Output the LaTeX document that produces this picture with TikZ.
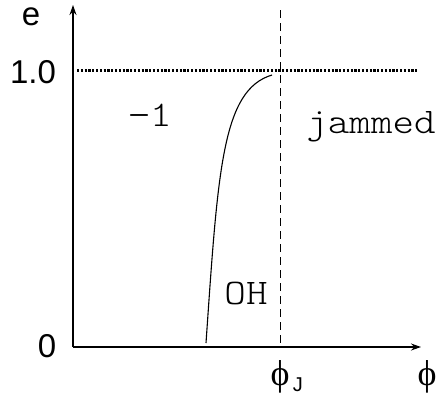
\documentclass[tikz,border=0pt]{standalone}
\usepackage{fontspec}
\setmainfont{Liberation Sans}
\newfontfamily\monof[FakeStretch=1.14]{Latin Modern Mono Light}
\newfontfamily\serf{Liberation Serif}
\usetikzlibrary{arrows.meta}
\begin{document}
\begin{tikzpicture}[x=1pt,y=-1pt,
  axis/.style={line width=1.2pt,-{Stealth[length=10pt,width=7pt]}},
  lbl/.style={font=\fontsize{33}{33}\selectfont,anchor=base,inner sep=0pt},
  mono/.style={font=\monof\fontsize{36}{36}\selectfont,anchor=base,inner sep=0pt},
  greek/.style={font=\serf\fontsize{36}{36}\selectfont,anchor=base,inner sep=0pt}]
\useasboundingbox (0,0) rectangle (438,399);
\coordinate (O) at (73,347);
\coordinate (ytip) at (73,5);
\coordinate (xtip) at (421,347);
\coordinate (d1) at (77,70);
\coordinate (d2) at (417,70);
\coordinate (v1) at (280,10);
\coordinate (v2) at (280,347);
\coordinate (c1) at (206,343);
\coordinate (c2) at (272,75);
\draw[axis] (O) -- (ytip);
\draw[axis] (O) -- (xtip);
\draw[line width=3pt,dash pattern=on 2.2pt off 1.6pt] (d1) -- (d2);
\draw[line width=1pt,dash pattern=on 8pt off 5pt] (v1) -- (v2);
\draw[line width=1.1pt] (c1) .. controls (218,170) and (222,90) .. (c2);
\node[lbl] (e) at (31,25) {e};
\node[lbl] (one) at (33,83) {1.0};
\node[lbl] (zero) at (47,357) {0};
\node[mono] (m1) at (150,126) {−1};
\node[mono] (jam) at (371,133) {jammed};
\node[mono] (oh) at (246,304) {OH};
\node[greek] (phj) at (280,385) {ϕ};
\node[anchor=base west,inner sep=0pt,font=\fontsize{20}{20}\selectfont] (J) at ([xshift=3pt,yshift=-6pt]phj.base east) {J};
\node[greek] (ph) at (427,385) {ϕ};
\end{tikzpicture}
\end{document}
